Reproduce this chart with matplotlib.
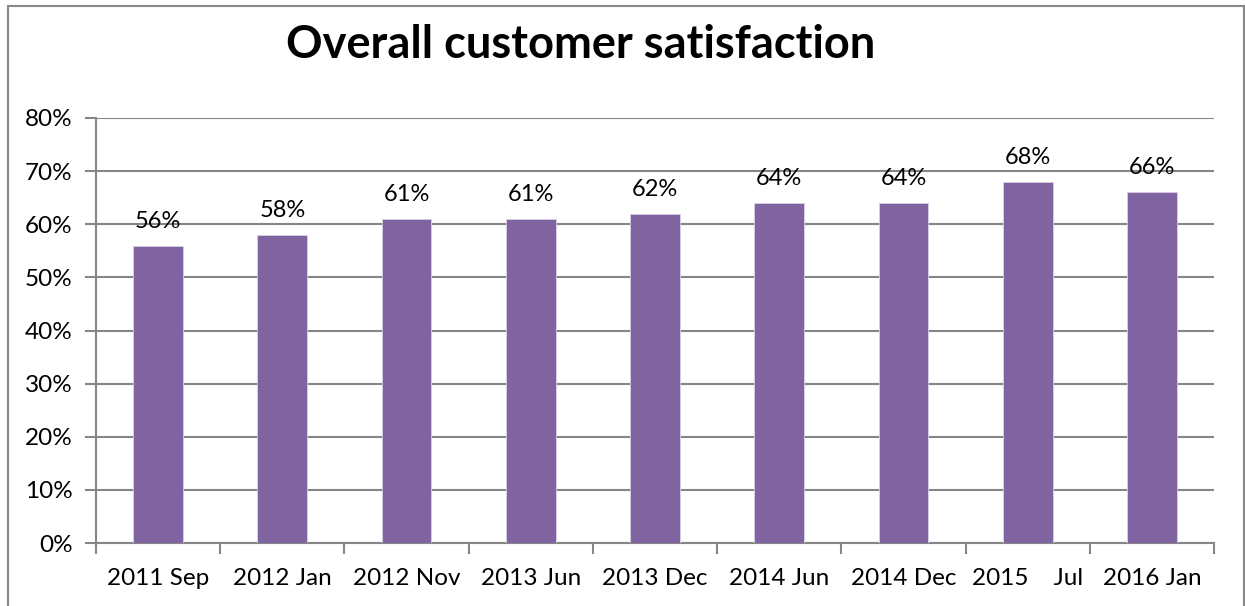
import matplotlib
matplotlib.use("Agg")
import matplotlib.pyplot as plt
from matplotlib.patches import Rectangle
from matplotlib.ticker import MultipleLocator, FuncFormatter

categories = ["2011 Sep", "2012 Jan", "2012 Nov", "2013 Jun", "2013 Dec",
              "2014 Jun", "2014 Dec", "2015    Jul", "2016 Jan"]
values = [56, 58, 61, 61, 62, 64, 64, 68, 66]
title = "Overall customer satisfaction"

plt.rcParams["font.family"] = ["Lato", "DejaVu Sans"]

W, H = 1245, 606
fig = plt.figure(figsize=(W / 100, H / 100), dpi=100)

# plot area in pixel terms
left, right, top, bottom = 96, 1214, 118, 543
ax = fig.add_axes([left / W, 1 - bottom / H, (right - left) / W, (bottom - top) / H])

grid_c = "#868686"
bar_c = "#8064A2"

x = range(len(categories))
ax.bar(x, values, width=0.4, color=bar_c, edgecolor="#D9CFE6", linewidth=0.6, zorder=3)
ax.set_xlim(-0.5, len(categories) - 0.5)
ax.set_ylim(0, 80)

ax.yaxis.set_major_locator(MultipleLocator(10))
ax.yaxis.set_major_formatter(FuncFormatter(lambda v, _: f"{int(v)}%"))
ax.grid(axis="y", color=grid_c, linewidth=1.5, zorder=0)

ax.set_xticks([i - 0.5 for i in range(len(categories) + 1)], minor=False)
ax.set_xticklabels([])
ax.set_xticks(list(x), minor=True)
ax.set_xticklabels(categories, minor=True)
ax.tick_params(axis="x", which="major", length=8, width=1.5, color=grid_c, direction="out")
ax.tick_params(axis="x", which="minor", length=0, pad=18, labelsize=17.5)
ax.tick_params(axis="y", length=8, width=1.5, color=grid_c, direction="out", labelsize=17.5, pad=9)

for s in ["top", "right"]:
    ax.spines[s].set_visible(False)
for s in ["left", "bottom"]:
    ax.spines[s].set_color(grid_c)
    ax.spines[s].set_linewidth(1.5)

for i, v in enumerate(values):
    ax.annotate(f"{v}%", (i, v), xytext=(0, 10), textcoords="offset points",
                ha="center", va="bottom", fontsize=17, zorder=4)

fig.text(581 / W, 1 - 45 / H, title, ha="center", va="center",
         fontsize=32.5, fontweight="bold")

# outer chart border
fig.patches.append(Rectangle((8 / W, -0.05), (1244 - 8) / W, 1.05 - 6 / H,
                             transform=fig.transFigure, fill=False,
                             edgecolor="#898989", linewidth=1.5))

fig.savefig("out.png", dpi=100)
